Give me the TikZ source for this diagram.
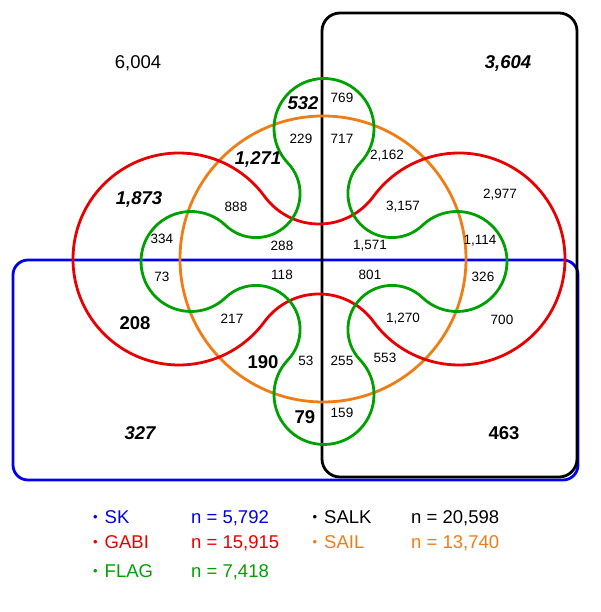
\documentclass[tikz,border=0pt]{standalone}
\usepackage{fontspec}
\setmainfont{Liberation Sans}
\usepackage{xcolor}
\usepackage{tikz}
\usetikzlibrary{calc}

\definecolor{skblue}{RGB}{0,0,238}
\definecolor{gabired}{RGB}{232,0,0}
\definecolor{flaggreen}{RGB}{0,160,0}
\definecolor{sailorange}{RGB}{237,125,20}

\begin{document}
\begin{tikzpicture}[
    x=1pt, y=1pt,
    setline/.style={line width=2.8pt},
    num/.style={font=\fontsize{13.5}{16}\selectfont, inner sep=0pt},
    bignum/.style={font=\fontsize{18.5}{22}\selectfont, inner sep=0pt},
    bold/.style={font=\fontsize{18.5}{22}\selectfont\bfseries, inner sep=0pt},
    bolditalic/.style={font=\fontsize{18.5}{22}\selectfont\bfseries\itshape, inner sep=0pt},
    legend/.style={font=\fontsize{18.5}{22}\selectfont, inner sep=0pt, anchor=base west},
    keydot/.style={font=\fontsize{13}{13}\selectfont, inner sep=0pt}
]
\useasboundingbox (-323,-353) rectangle (277,259);

\coordinate (sail) at (0,0);
\coordinate (gabiL) at (-144,0);
\coordinate (flag) at (1,-2.5);

% SK and SALK
\draw[setline, skblue, rounded corners=15pt] (-310,-1) rectangle (255,-221);
\draw[setline, black, rounded corners=18pt] (-1,246) rectangle (254,-218);

% SAIL
\draw[setline, sailorange] (sail) circle[radius=143];

% GABI
\draw[setline, gabired] ($(gabiL)+(36.2:106)$)
    arc[start angle=36.2, end angle=323.8, radius=106]
    arc[start angle=143.8, end angle=36.2, radius=67.5]
    arc[start angle=216.2, end angle=503.8, radius=106]
    arc[start angle=-36.2, end angle=-143.8, radius=67.5] -- cycle;

% FLAG
\draw[setline, flaggreen] ($(flag)+(36.14,98.45)$)
    \foreach \i in {0,90,180,270}{
      arc[start angle=\i-43.71, end angle=\i+223.71, radius=50]
      arc[start angle=\i+43.71, end angle=\i-133.71, radius=44.07]
    } -- cycle;

% counts
\node[bignum] (r6004) at (-185,196) {6,004};
\node[bolditalic] (r3604) at (185,196) {3,604};
\node[bolditalic] (r532) at (-20,156) {532};
\node[num] (r769) at (19,161) {769};
\node[num] (r229) at (-22,120) {229};
\node[num] (r717) at (19,120) {717};
\node[bolditalic] (r1271) at (-65,100) {1,271};
\node[num] (r2162) at (64,103) {2,162};
\node[bolditalic] (r1873) at (-184,60) {1,873};
\node[num] (r888) at (-87,52) {888};
\node[num] (r3157) at (80,52) {3,157};
\node[num] (r2977) at (177,64) {2,977};
\node[num] (r334) at (-161,20) {334};
\node[num] (r288) at (-41,13) {288};
\node[num] (r1571) at (47,13) {1,571};
\node[num] (r1114) at (157,18) {1,114};
\node[num] (r73) at (-161,-18) {73};
\node[num] (r118) at (-41,-16) {118};
\node[num] (r801) at (47,-16) {801};
\node[num] (r326) at (160,-18) {326};
\node[bold] (r208) at (-188,-64) {208};
\node[num] (r217) at (-91,-60) {217};
\node[num] (r1270) at (80,-60) {1,270};
\node[num] (r700) at (179,-61) {700};
\node[bold] (r190) at (-60,-103) {190};
\node[num] (r53) at (-17,-102) {53};
\node[num] (r255) at (19,-102) {255};
\node[num] (r553) at (62,-99) {553};
\node[bold] (r79) at (-18,-158) {79};
\node[num] (r159) at (19,-154) {159};
\node[bolditalic] (r327) at (-183,-174) {327};
\node[bold] (r463) at (181,-174) {463};

% legend
\node[keydot, text=skblue] (skdot) at (-227.5,-259.5) {\textbullet};
\node[legend, text=skblue] (skkey) at (-218.5,-264.6) {SK};
\node[legend, text=skblue] (skn) at (-132,-264.6) {n = 5,792};
\node[keydot] (salkdot) at (-8,-259.5) {\textbullet};
\node[legend] (salkkey) at (1,-264.6) {SALK};
\node[legend] (salkn) at (88,-264.6) {n = 20,598};
\node[keydot, text=gabired] (gabidot) at (-227.5,-284.5) {\textbullet};
\node[legend, text=gabired] (gabikey) at (-218.5,-289.6) {GABI};
\node[legend, text=gabired] (gabin) at (-132,-289.6) {n = 15,915};
\node[keydot, text=sailorange] (saildot) at (-8,-284.5) {\textbullet};
\node[legend, text=sailorange] (sailkey) at (1,-289.6) {SAIL};
\node[legend, text=sailorange] (sailn) at (88,-289.6) {n = 13,740};
\node[keydot, text=flaggreen] (flagdot) at (-227.5,-313.5) {\textbullet};
\node[legend, text=flaggreen] (flagkey) at (-218.5,-318.6) {FLAG};
\node[legend, text=flaggreen] (flagn) at (-132,-318.6) {n = 7,418};

\end{tikzpicture}
\end{document}
